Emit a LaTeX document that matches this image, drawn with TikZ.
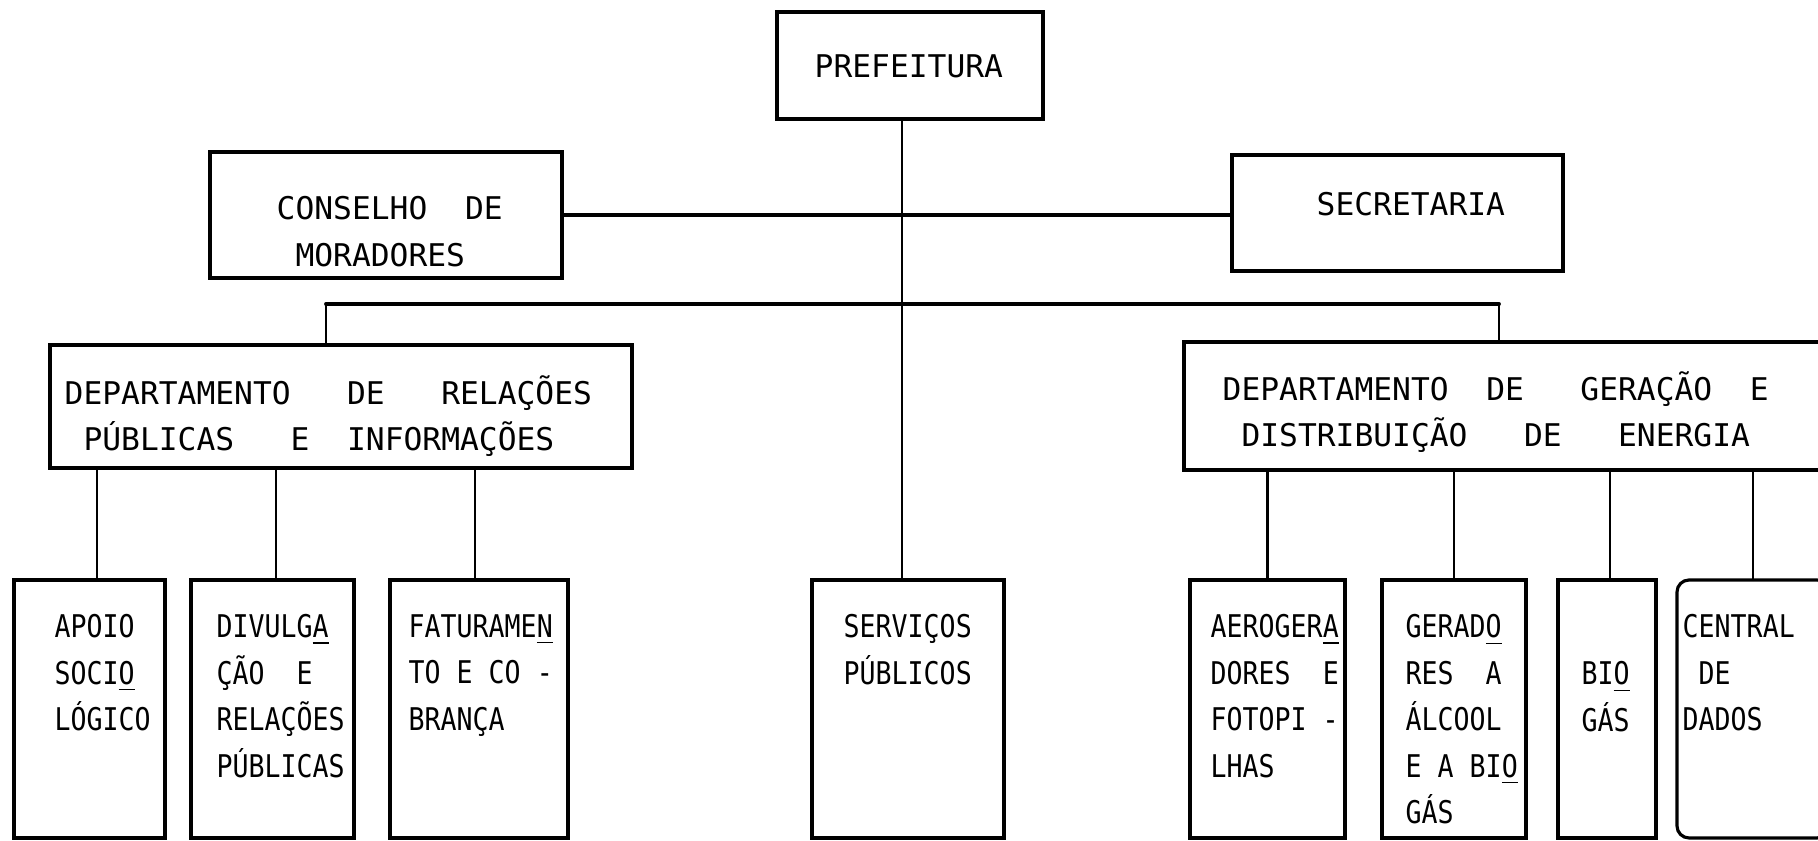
\documentclass[tikz,border=0pt]{standalone}
\usepackage{fontspec}
\setmonofont{DejaVu Sans Mono}
\newfontfamily\estreita{DejaVu Sans Mono}[FakeStretch=0.85]
\usepackage{tikz}
\usetikzlibrary{positioning}

\begin{document}
\begin{tikzpicture}[line cap=round,
  caixa/.style={draw, rectangle, line width=0.9pt, anchor=north west, inner sep=0pt, outer sep=0pt},
  texto/.style={anchor=north west, inner sep=0pt, align=left,
    font=\ttfamily\fontsize{8.9}{13.2}\selectfont, execute at begin node=\strut},
  textosetor/.style={texto, font=\estreita\fontsize{8.9}{13.2}\selectfont},
  liga/.style={line width=0.6pt},
  ligagrossa/.style={line width=1.1pt}]

  \useasboundingbox (0,0) rectangle (18.18,8.41);
  \clip (0,0) rectangle (18.18,8.41);

  % topo
  \node[caixa, minimum width=2.66cm, minimum height=1.07cm] (prefeitura) at (7.77,8.29) {};
  \node[caixa, minimum width=3.52cm, minimum height=1.26cm] (conselho) at (2.10,6.89) {};
  \node[caixa, minimum width=3.31cm, minimum height=1.16cm] (secretaria) at (12.32,6.86) {};

  % departamentos
  \node[caixa, minimum width=5.82cm, minimum height=1.23cm] (deprel) at (0.50,4.96) {};
  \node[caixa, minimum width=6.46cm, minimum height=1.28cm] (depger) at (11.84,4.99) {};

  % setores
  \node[caixa, minimum width=1.51cm, minimum height=2.58cm] (apoio) at (0.14,2.61) {};
  \node[caixa, minimum width=1.63cm, minimum height=2.58cm] (divulg) at (1.91,2.61) {};
  \node[caixa, minimum width=1.78cm, minimum height=2.58cm] (fatur) at (3.90,2.61) {};
  \node[caixa, minimum width=1.92cm, minimum height=2.58cm] (servicos) at (8.12,2.61) {};
  \node[caixa, minimum width=1.55cm, minimum height=2.58cm] (aerog) at (11.90,2.61) {};
  \node[caixa, minimum width=1.44cm, minimum height=2.58cm] (gerad) at (13.82,2.61) {};
  \node[caixa, minimum width=0.98cm, minimum height=2.58cm] (biogas) at (15.58,2.61) {};
  \node[caixa, rounded corners=1.2mm, minimum width=1.52cm, minimum height=2.58cm] (central) at (16.77,2.61) {};

  % textos
  \node[texto] (prefeitura-t) at ([shift={(0.37,-0.32)}]prefeitura.north west) {PREFEITURA};
  \node[texto] (conselho-t) at ([shift={(0.66,-0.44)}]conselho.north west) {CONSELHO~~DE\\~MORADORES};
  \node[texto] (secretaria-t) at ([shift={(0.84,-0.27)}]secretaria.north west) {SECRETARIA};
  \node[texto] (deprel-t) at ([shift={(0.14,-0.30)}]deprel.north west)
    {DEPARTAMENTO~~~DE~~~RELAÇÕES\\~PÚBLICAS~~~E~~INFORMAÇÕES};
  \node[texto] (depger-t) at ([shift={(0.38,-0.29)}]depger.north west)
    {DEPARTAMENTO~~DE~~~GERAÇÃO~~E\\~DISTRIBUIÇÃO~~~DE~~~ENERGIA};
  \node[textosetor] (apoio-t) at ([shift={(0.40,-0.34)}]apoio.north west) {APOIO\\SOCI\underline{O}\\LÓGICO};
  \node[textosetor] (divulg-t) at ([shift={(0.25,-0.34)}]divulg.north west) {DIVULG\underline{A}\\ÇÃO~~E\\RELAÇÕES\\PÚBLICAS};
  \node[textosetor] (fatur-t) at ([shift={(0.18,-0.34)}]fatur.north west) {FATURAME\underline{N}\\TO~E~CO~-\\BRANÇA};
  \node[textosetor] (servicos-t) at ([shift={(0.31,-0.34)}]servicos.north west) {SERVIÇOS\\PÚBLICOS};
  \node[textosetor] (aerog-t) at ([shift={(0.20,-0.34)}]aerog.north west) {AEROGER\underline{A}\\DORES~~E\\FOTOPI~-\\LHAS};
  \node[textosetor] (gerad-t) at ([shift={(0.23,-0.34)}]gerad.north west) {GERAD\underline{O}\\RES~~A\\ÁLCOOL\\E~A~BI\underline{O}\\GÁS};
  \node[textosetor] (biogas-t) at ([shift={(0.23,-0.81)}]biogas.north west) {BI\underline{O}\\GÁS};
  \node[textosetor] (central-t) at ([shift={(0.05,-0.34)}]central.north west) {CENTRAL\\~DE\\DADOS};

  % ligacoes
  \coordinate (barra) at (0,5.37);
  \draw[liga] ([xshift=-0.8mm]prefeitura.south) -- ([xshift=-0.8mm]prefeitura.south |- servicos.north);
  \draw[ligagrossa] (conselho.east) -- (conselho.east -| secretaria.west);
  \draw[ligagrossa] ([xshift=-1.5mm]deprel.north |- barra) -- ([xshift=-0.8mm]depger.north |- barra);
  \draw[liga] ([xshift=-1.5mm]deprel.north) -- ([xshift=-1.5mm]deprel.north |- barra);
  \draw[liga] ([xshift=-0.8mm]depger.north) -- ([xshift=-0.8mm]depger.north |- barra);
  \foreach \filho/\dx in {apoio/0.75mm, divulg/0.35mm, fatur/-0.4mm}
    \draw[liga] ([xshift=\dx]\filho.north) -- ([xshift=\dx]\filho.north |- deprel.south);
  \foreach \filho/\dx in {aerog/0mm, gerad/0mm, biogas/0.3mm, central/0mm}
    \draw[liga] ([xshift=\dx]\filho.north) -- ([xshift=\dx]\filho.north |- depger.south);

\end{tikzpicture}
\end{document}
